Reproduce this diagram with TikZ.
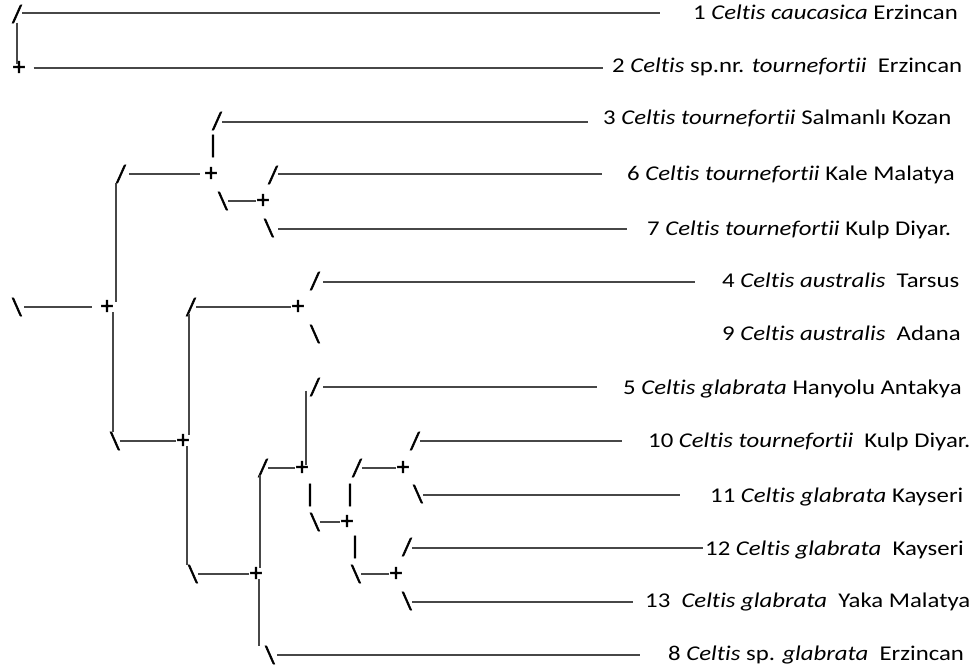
\documentclass[tikz,border=0pt]{standalone}
\usepackage{fontspec}
\setmainfont{Carlito}[FakeStretch=1.18,Ligatures=NoCommon]
\newfontfamily\glfont{Carlito}[FakeBold=2.2]
\begin{document}
\begin{tikzpicture}[x=1pt,y=-1pt,
  gl/.style={inner sep=0.3pt, font=\glfont\fontsize{25}{28}\selectfont},
  lab/.style={anchor=base west, inner sep=0pt, font=\fontsize{21}{24}\selectfont},
  br/.style={draw=black!72, line width=1.1pt}]
\useasboundingbox[fill=white] (0,0) rectangle (976,671);
% ---- glyph nodes ----
\node[gl] (g1) at (17,14) {/};
\node[gl] (g2) at (19,68) {+};
\node[gl] (g3) at (217,121) {/};
\node[gl] (g3b) at (213,146) {|};
\node[gl] (g4) at (121,174) {/};
\node[gl] (g5) at (211,174) {+};
\node[gl] (g6) at (273,175) {/};
\node[gl] (g7) at (223,201) {\textbackslash};
\node[gl] (g8) at (263,201) {+};
\node[gl] (g9) at (269,228) {\textbackslash};
\node[gl] (g20) at (17,307) {\textbackslash};
\node[gl] (g10) at (107,307) {+};
\node[gl] (g12) at (191,307) {/};
\node[gl] (g21) at (298,307) {+};
\node[gl] (g28) at (315,281) {/};
\node[gl] (g29) at (315,334) {\textbackslash};
\node[gl] (g14) at (315,387) {/};
\node[gl] (g11) at (115,441) {\textbackslash};
\node[gl] (g13) at (183,441) {+};
\node[gl] (g30) at (415,441) {/};
\node[gl] (g17) at (263,468) {/};
\node[gl] (g15) at (302,468) {+};
\node[gl] (g22) at (357,468) {/};
\node[gl] (g23) at (403,468) {+};
\node[gl] (g31) at (418,494) {\textbackslash};
\node[gl] (p1) at (310,495) {|};
\node[gl] (p2) at (350,495) {|};
\node[gl] (g24) at (315,522) {\textbackslash};
\node[gl] (g25) at (347,522) {+};
\node[gl] (p3) at (355,547) {|};
\node[gl] (g32) at (407,547) {/};
\node[gl] (g16) at (193,574) {\textbackslash};
\node[gl] (g18) at (256,574) {+};
\node[gl] (g26) at (356,574) {\textbackslash};
\node[gl] (g27) at (396,574) {+};
\node[gl] (g33) at (407,601) {\textbackslash};
\node[gl] (g19) at (270,655) {\textbackslash};
% ---- labels ----
\node[lab] (L1) at (693,20) {1 \textit{Celtis caucasica} Erzincan};
\node[lab] (L2) at (612,73) {2 \textit{Celtis} sp.nr. \textit{tournefortii}\ \ Erzincan};
\node[lab] (L3) at (603,125) {3 \textit{Celtis tournefortii} Salmanlı Kozan};
\node[lab] (L6) at (627,180) {6 \textit{Celtis tournefortii} Kale Malatya};
\node[lab] (L7) at (647,235) {7 \textit{Celtis tournefortii} Kulp Diyar.};
\node[lab] (L4) at (722,287) {4 \textit{Celtis australis}\ \ Tarsus};
\node[lab] (L9) at (722,340) {9 \textit{Celtis australis}\ \ Adana};
\node[lab] (L5) at (623,394) {5 \textit{Celtis glabrata} Hanyolu Antakya};
\node[lab] (L10) at (648,447) {10 \textit{Celtis tournefortii}\ \ Kulp Diyar.};
\node[lab] (L11) at (710,502) {11 \textit{Celtis glabrata} Kayseri};
\node[lab] (L12) at (705,555) {12 \textit{Celtis glabrata}\ \ Kayseri};
\node[lab] (L13) at (645,607) {13\ \ \textit{Celtis glabrata}\ \ Yaka Malatya};
\node[lab] (L8) at (668,660) {8 \textit{Celtis} sp. \textit{glabrata}\ \ Erzincan};
% ---- free ends of leaf lines ----
\coordinate (e1) at (660,13);
\coordinate (e2) at (603,68);
\coordinate (e3) at (588,122);
\coordinate (e6) at (602,174);
\coordinate (e9) at (627,229);
\coordinate (e4) at (695,282);
\coordinate (e5) at (597,387);
\coordinate (e10) at (622,441);
\coordinate (e11) at (680,495);
\coordinate (e12) at (703,548);
\coordinate (e13) at (633,602);
\coordinate (e8) at (640,655);
% ---- leaf lines ----
\draw[br] (g1.east |- e1) -- (e1);
\draw[br] ([xshift=8]g2.east |- e2) -- (e2);
\draw[br] (g3.east |- e3) -- (e3);
\draw[br] (g6.east |- e6) -- (e6);
\draw[br] ([xshift=4]g9.east |- e9) -- (e9);
\draw[br] ([xshift=3]g28.east |- e4) -- (e4);
\draw[br] ([xshift=3]g14.east |- e5) -- (e5);
\draw[br] (g30.east |- e10) -- (e10);
\draw[br] (g31.east |- e11) -- (e11);
\draw[br] (g32.east |- e12) -- (e12);
\draw[br] (g33.east |- e13) -- (e13);
\draw[br] ([xshift=2]g19.east |- e8) -- (e8);
% ---- internal horizontal lines ----
\draw[br] ([xshift=3]g4.east) -- ([xshift=-4]g5.west);
\draw[br] (g7.east) -- (g8.west);
\draw[br] ([xshift=2]g20.east) -- ([xshift=-8]g10.west);
\draw[br] (g12.east) -- (g21.west);
\draw[br] (g11.east) -- (g13.west);
\draw[br] (g17.east) -- (g15.west);
\draw[br] (g22.east) -- (g23.west);
\draw[br] (g24.east) -- (g25.west);
\draw[br] (g16.east) -- (g18.west);
\draw[br] (g26.east) -- (g27.west);
% ---- vertical lines ----
\draw[br] ([yshift=1]g1.south) -- ([yshift=-3]g1.south |- g2.north);
\draw[br] ([xshift=-5,yshift=1]g4.south) -- ([xshift=-5,yshift=-2]g4.south |- g10.north);
\draw[br] ([xshift=6,yshift=2]g10.south) -- ([xshift=6,yshift=-1]g10.south |- g11.north);
\draw[br] ([xshift=-2,yshift=3]g12.south) -- ([xshift=-2,yshift=-1]g12.south |- g13.north);
\draw[br] ([xshift=-9,yshift=6]g14.south) -- ([xshift=-9,yshift=-4]g14.south |- g15.north);
\draw[br] ([xshift=4,yshift=2]g13.south) -- ([xshift=4,yshift=-1]g13.south |- g16.north);
\draw[br] ([xshift=-3,yshift=3]g17.south) -- ([xshift=-3,yshift=-1]g17.south |- g18.north);
\draw[br] ([xshift=3,yshift=2]g18.south) -- ([xshift=3,yshift=-1]g18.south |- g19.north);
\end{tikzpicture}
\end{document}
